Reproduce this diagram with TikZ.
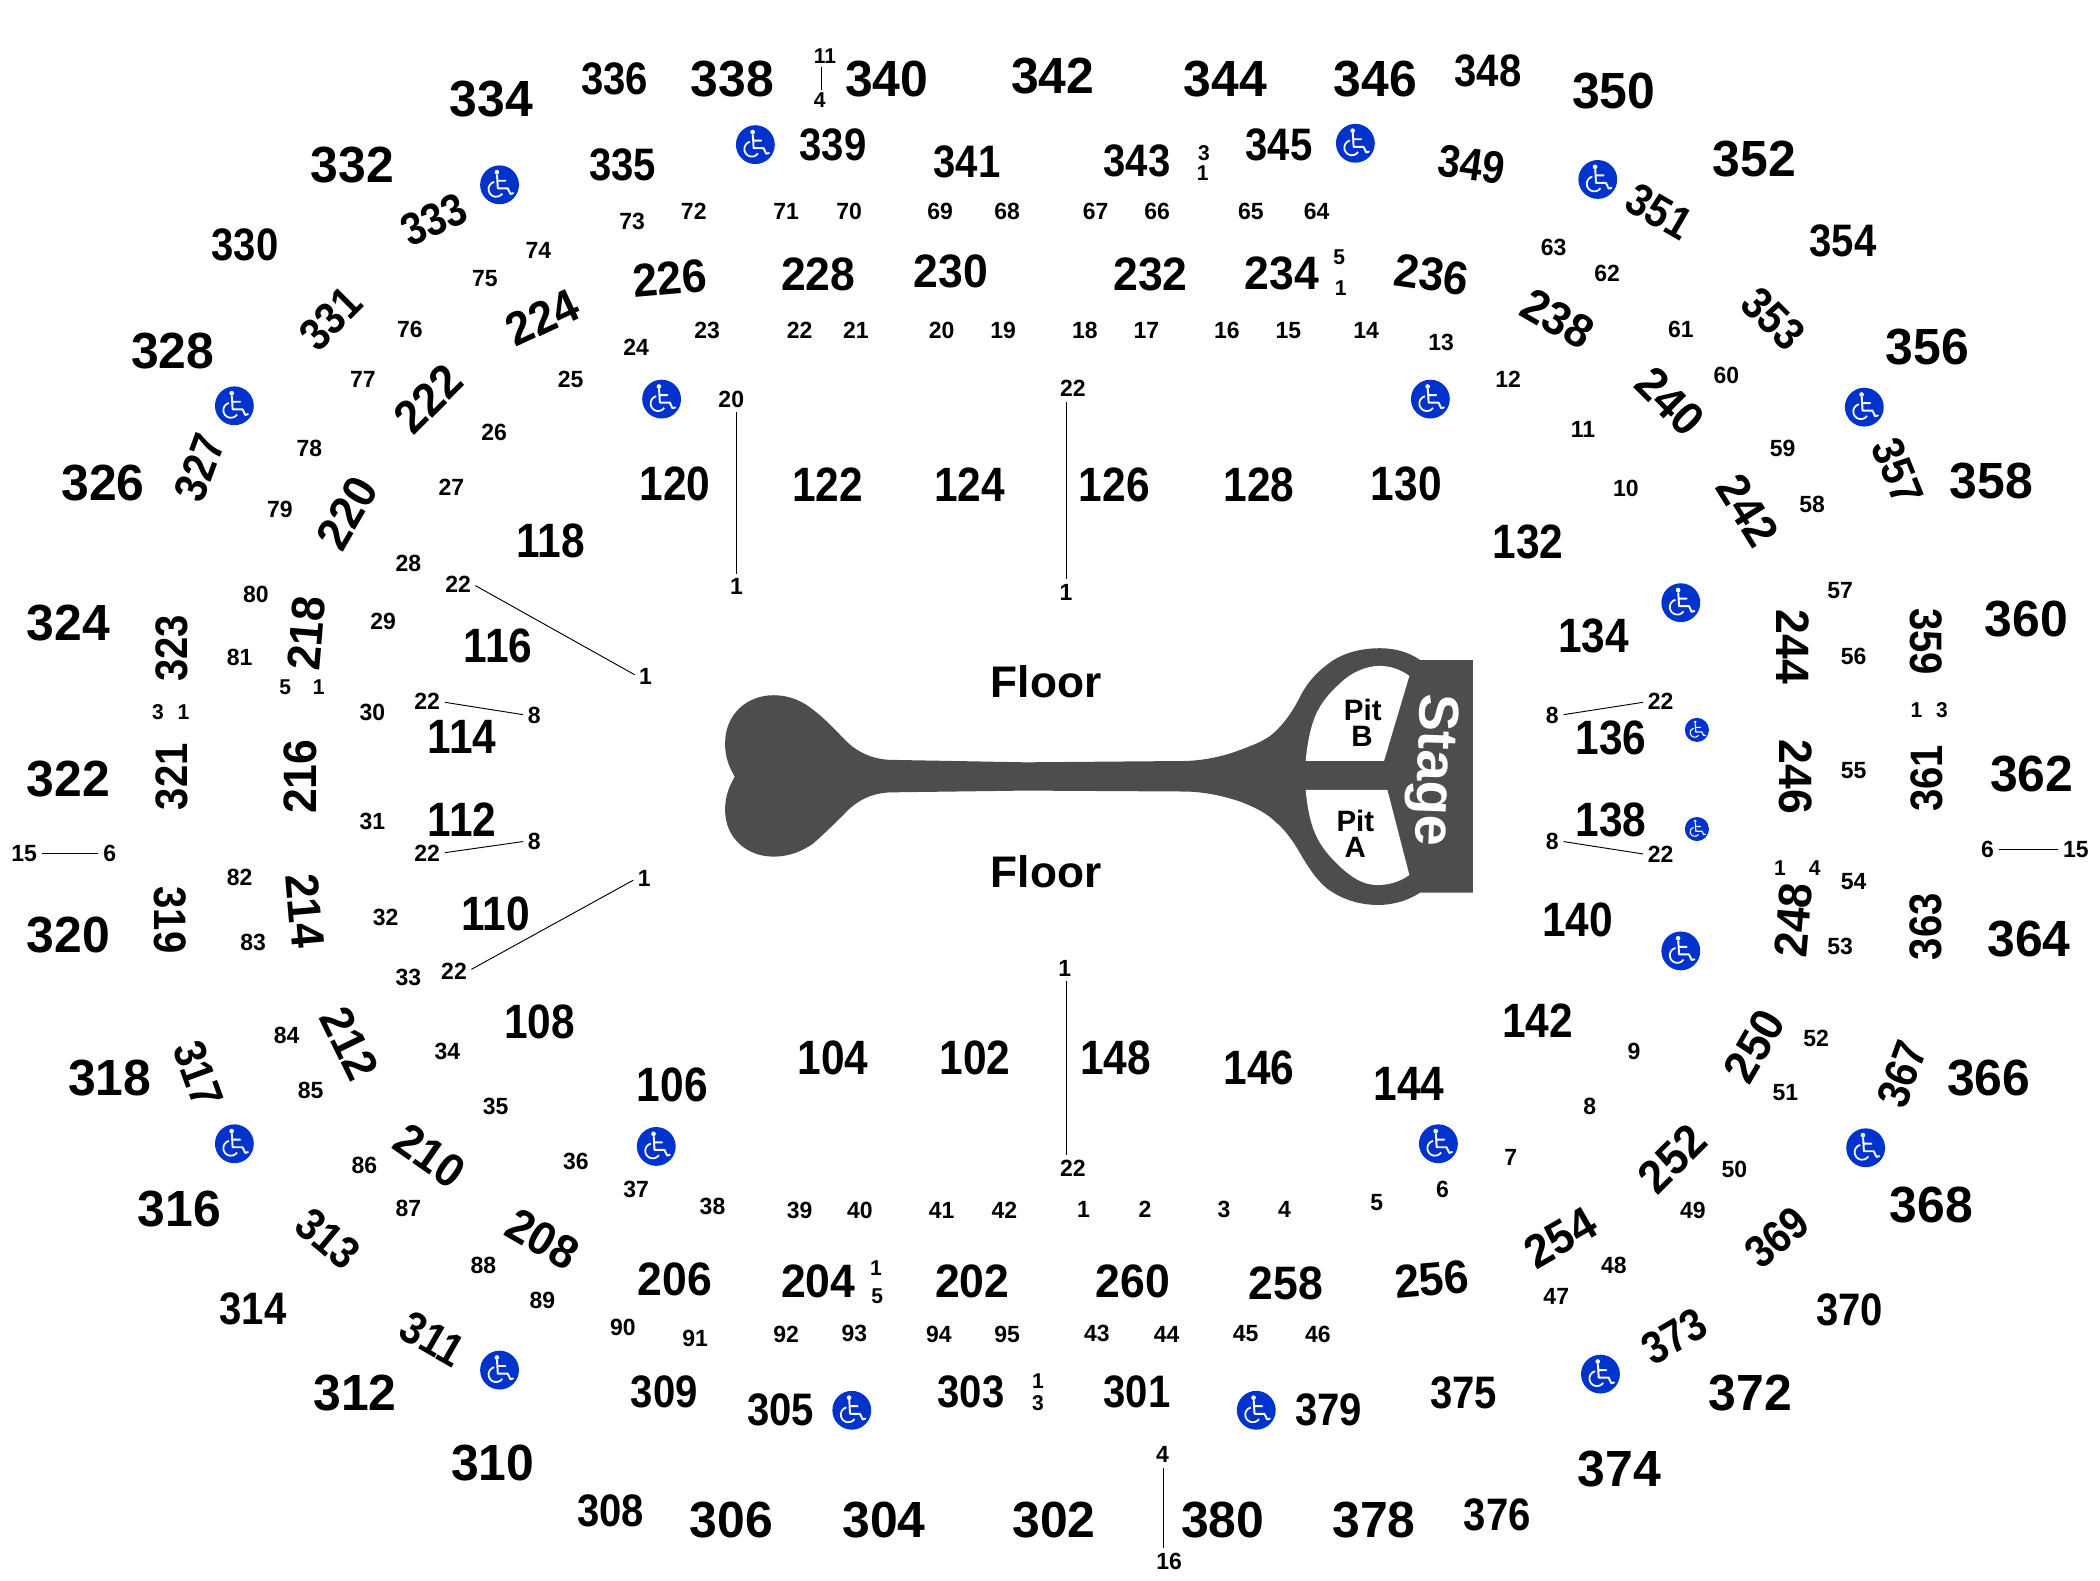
\documentclass[tikz,border=0pt]{standalone}
\usepackage{fontspec}
\setmainfont{Liberation Sans}
\newfontfamily\nara[FakeStretch=0.88]{Liberation Sans}
\newfontfamily\narb[FakeStretch=0.98]{Liberation Sans}
\newfontfamily\narc[FakeStretch=0.95]{Liberation Sans}
\definecolor{stagegrey}{HTML}{4D4D4D}
\definecolor{wcblue}{HTML}{0033CC}
\tikzset{
  base/.style={inner sep=1pt,text=black},
  xl/.style={base,font=\narb\fontsize{38}{38}\selectfont\bfseries},
  lg/.style={base,font=\nara\fontsize{36}{36}\selectfont\bfseries},
  md/.style={base,font=\nara\fontsize{34}{34}\selectfont\bfseries},
  tw/.style={base,font=\narc\fontsize{35}{35}\selectfont\bfseries},
  sm/.style={base,font=\narb\fontsize{17.5}{17.5}\selectfont\bfseries},
  ti/.style={base,font=\narb\fontsize{16}{16}\selectfont\bfseries},
  pit/.style={base,font=\fontsize{22}{22}\selectfont\bfseries},
  flr/.style={base,font=\fontsize{33}{33}\selectfont\bfseries},
  conn/.style={draw=black,line width=0.7pt,shorten <=2.5pt,shorten >=2.5pt},
}
\newcommand{\wheel}[3]{%
  \begin{scope}[shift={(#1,#2)},scale=#3]
    \fill[wcblue] (0,0) circle[radius=1];
    \fill[white] (-.14,-.65) circle[radius=.12];
    \draw[white,line width=#3*0.1pt,line cap=round,line join=round]
      (-.13,-.5) -- (-.09,.18) -- (.42,.18) -- (.56,.47) -- (.7,.43)
      (-.09,-.21) -- (.3,-.21);
    \draw[white,line width=#3*0.09pt] (-.28,-.15) arc[start angle=-105,end angle=-325,radius=.39];
  \end{scope}}
\begin{document}
\begin{tikzpicture}[x=1pt,y=-1pt]
\useasboundingbox (0,0) rectangle (1568,1180);
% stage
\fill[stagegrey] (548.6,579.9)
  .. controls (544,572) and (541.4,565) .. (541.4,555)
  .. controls (541.4,533) and (558,519.1) .. (577.5,519.1)
  .. controls (590,519.1) and (600,524) .. (607.3,530.1)
  .. controls (615,536) and (623,544) .. (629.7,551.3)
  .. controls (640,562) and (652,567.4) .. (667,567.4)
  -- (766,569.2) -- (884.6,568.2)
  .. controls (900,567.8) and (914,564.5) .. (925.9,560)
  .. controls (935,556.5) and (944,553.5) .. (950.8,547.5)
  .. controls (958,541) and (964,533) .. (969.5,522.6)
  .. controls (975,511) and (982,503) .. (990.6,496.5)
  .. controls (1001,488) and (1015,484) .. (1030.4,484)
  .. controls (1042,484) and (1052,487) .. (1060.3,492.8)
  -- (1099.8,492.8) -- (1099.8,666.5) -- (1060.3,666.5)
  .. controls (1052,672) and (1041,675.7) .. (1029.2,675.7)
  .. controls (1014,675.7) and (1001,671) .. (990.6,663.2)
  .. controls (982,656) and (976,646) .. (970.7,637.1)
  .. controls (965,627) and (959,619) .. (950.8,612.2)
  .. controls (944,606) and (935,602) .. (925.9,598.5)
  .. controls (914,594.5) and (900,591.2) .. (884.6,591)
  -- (766,590.3) -- (667,591.6)
  .. controls (652,591.6) and (640,597) .. (629.7,608.5)
  .. controls (623,615) and (615,623) .. (607.3,629.7)
  .. controls (600,635) and (590,639.6) .. (577.5,639.6)
  .. controls (558,639.6) and (541.4,626) .. (541.4,604.8)
  .. controls (541.4,595) and (544,588) .. (548.6,579.9) -- cycle;
\fill[white] (974.9,568.2)
  .. controls (976,556) and (978,545) .. (981.9,535)
  .. controls (986,525) and (993,517) .. (1000.6,510.2)
  .. controls (1009,502) and (1020,497.2) .. (1030.4,497.2)
  .. controls (1038,497.2) and (1046,500) .. (1052.3,504.7)
  -- (1033.4,568.2) -- cycle;
\fill[white] (974.9,589.8)
  .. controls (976,602) and (978,613) .. (981.9,622.2)
  .. controls (986,632) and (993,640) .. (1000.6,647.1)
  .. controls (1009,655) and (1018,660.8) .. (1028,660.8)
  .. controls (1037,661) and (1046,658) .. (1052.3,653.3)
  -- (1035.9,589.8) -- cycle;
\node[flr,name=floorA] at (781,509) {Floor};
\node[flr,name=floorB] at (781,651) {Floor};
\node[pit,name=pitB1] at (1017.5,530) {Pit};
\node[pit,name=pitB2] at (1017,550) {B};
\node[pit,name=pitA1] at (1012,613) {Pit};
\node[pit,name=pitA2] at (1012,633) {A};
\node[base,text=white,font=\fontsize{42}{42}\selectfont\bfseries,rotate=-92,name=stage] at (1069,575) {Stage};
% wheelchair
\foreach \x/\y in {373/138,564/108,1012/107,1193/134,175/303,494/298,1068/298,1392/304,1255/450,1255/710,175/854,490/856,1074/854,1393/857,373/1023,636/1053,938/1053,1195/1026}
  {\wheel{\x}{\y}{14.5}}
\wheel{1267}{545}{9}
\wheel{1267}{619}{9}
% 300 even large
\foreach \t/\x/\y in {334/367/74,338/547/59,340/662/59,342/786/57,344/915/59,346/1027/59,350/1205/68,352/1310/119,356/1439/259,358/1487/359,360/1513/462,362/1517/578,364/1515/701,366/1485/805,368/1442/900,372/1307/1040,374/1209/1097,378/1026/1135,380/913/1135,302/787/1135,304/660/1135,306/546/1135,310/368/1092,312/265/1040,316/134/903,318/82/805,320/51/698,322/51/582,324/51/465,326/77/361,328/129/262,332/263/123}
  {\node[xl,name=n\t] at (\x,\y) {\t};}
\foreach \t/\x/\y in {336/459/59,348/1111/53,354/1376/180,370/1381/978,376/1118/1131,308/456/1128,314/189/977,330/183/183}
  {\node[md,name=n\t] at (\x,\y) {\t};}
% 300 odd and 200, 100
\foreach \t/\x/\y/\r in {333/324/164/25,335/465/123/0,339/622/108/0,341/722/121/0,343/849/120/0,345/955/108/0,349/1099/123/-8,351/1239/158/-30,353/1324/238/-45,357/1417/352/-68,359/1438/479/-90,361/1439/581/90,363/1438/692/90,367/1420/802/70,369/1327/924/40,373/1250/998/30,375/1093/1040/0,379/992/1053/0,301/849/1039/0,303/725/1039/0,305/583/1053/0,309/496/1039/0,311/323/1000/-30,313/245/925/-40,317/148/802/-70,319/127/687/-90,321/128/580/90,323/128/484/90,327/149/349/70,331/247/238/45}
  {\node[md,rotate=\r,name=n\t] at (\x,\y) {\t};}
\foreach \t/\x/\y/\r in {226/500/208/5,228/611/205/0,230/710/203/0,232/859/205/0,234/957/204/0,236/1069/205/-8,238/1163/238/-30,240/1247/300/-45,242/1305/381/-58,244/1339/483/-90,246/1341/580/-90,248/1339/687/85,250/1310/781/60,252/1249/865/45,254/1165/924/30,256/1069/955/5,258/960/958/0,260/846/957/0,202/726/957/0,204/611/957/0,206/504/955/0,208/405/925/-30,210/321/863/-35,212/261/779/-64,214/228/680/-85,216/224/580/90,218/229/473/85,220/259/383/60,222/320/298/45,224/405/237/25}
  {\node[tw,rotate=\r,name=n\t] at (\x,\y) {\t};}
\foreach \t/\x/\y in {120/504/361,122/618/362,124/724/362,126/832/362,128/940/362,130/1050/361,132/1141/405,134/1190/475,136/1203/551,138/1203/612,140/1178/687,142/1148/762,144/1052/809,146/940/797,148/833/790,102/728/790,104/622/790,106/502/810,108/403/763,110/370/682,112/345/612,114/345/550,116/372/482,118/411/404}
  {\node[lg,name=n\t] at (\x,\y) {\t};}
% small numbers
\foreach \t/\x/\y in {73/472/165,72/518/158,71/587/158,70/634/158,69/702/158,68/752/158,67/818/158,66/864/158,65/934/158,64/983/158,63/1160/185,62/1200/204,61/1255/246,60/1289/280,59/1331/335,58/1353/377,57/1374/441,56/1384/490,55/1384/575,54/1384/658,53/1374/707,52/1356/775,51/1333/816,50/1295/873,49/1264/904,48/1205/945,47/1162/968,46/984/996,45/930/996,44/871/996,43/819/996,95/752/996,94/701/996,93/638/996,92/587/996,91/519/999,90/465/991,89/405/971,88/361/945,87/305/902,86/272/870,85/232/814,84/214/773,83/189/704,82/179/655,81/179/491,80/191/444,79/209/380,78/231/335,77/271/283,76/306/246,75/362/208,74/402/187}
  {\node[sm,name=u\t] at (\x,\y) {\t};}
\foreach \t/\x/\y in {23/528/247,22/597/247,21/639/247,20/703/247,19/749/247,18/810/247,17/856/247,16/916/247,15/962/247,14/1020/247,13/1076/256,12/1126/283,11/1182/321,10/1214/365,9/1220/785,8/1187/826,7/1128/864,6/1077/888,5/1028/898,4/959/903,3/914/903,2/855/903,1/809/903,42/750/904,41/703/904,40/642/904,39/597/904,38/532/901,37/475/888,36/430/867,35/370/826,34/334/785,33/305/730,32/288/685,31/278/613,30/278/532,29/286/464,28/305/421,27/337/364,26/369/323,25/426/283,24/475/259}
  {\node[sm,name=l\t] at (\x,\y) {\t};}
% seat count pairs
\foreach \n/\t/\x/\y in {a/3/899/114,b/1/898/129,c/5/1000/192,d/1/1001/215,e/1/654/947,f/5/655/968,g/1/775/1031,h/3/775/1048,i/3/118/532,j/1/137/532,k/5/213/513,m/1/238/513,o/1/1431/530,p/3/1450/530,q/1/1329/648,r/4/1355/648}
  {\node[ti,name=pair\n] at (\x,\y) {\t};}
% connector ends
\node[sm,name=c1a] at (546,298) {20};  \node[sm,name=c1b] at (550,438) {1};
\node[sm,name=c2a] at (801,290) {22};  \node[sm,name=c2b] at (796,442) {1};
\node[sm,name=c3a] at (342,436) {22};  \node[sm,name=c3b] at (482,505) {1};
\node[sm,name=c4a] at (319,524) {22};  \node[sm,name=c4b] at (399,534) {8};
\node[sm,name=c5a] at (319,637) {22};  \node[sm,name=c5b] at (399,628) {8};
\node[sm,name=c6a] at (481,656) {1};   \node[sm,name=c6b] at (339,725) {22};
\node[sm,name=c7a] at (795,723) {1};   \node[sm,name=c7b] at (801,872) {22};
\node[sm,name=c8a] at (1159,534) {8};  \node[sm,name=c8b] at (1240,524) {22};
\node[sm,name=c9a] at (1159,628) {8};  \node[sm,name=c9b] at (1240,638) {22};
\node[sm,name=c10a] at (18,637) {15};  \node[sm,name=c10b] at (82,637) {6};
\node[sm,name=c11a] at (1484,634) {6}; \node[sm,name=c11b] at (1550,634) {15};
\node[sm,name=c12a] at (868,1086) {4}; \node[sm,name=c12b] at (873,1166) {16};
\node[ti,name=c13a] at (616,42) {11};  \node[ti,name=c13b] at (612,75) {4};
\draw[conn] (c1a.south -| c1b.north) -- (c1b.north);
\draw[conn] (c2a.south -| c2b.north) -- (c2b.north);
\draw[conn] (c3a.east) -- (c3b.west);
\draw[conn] (c4a.east) -- (c4b.west);
\draw[conn] (c5a.east) -- (c5b.west);
\draw[conn] (c6a.west) -- (c6b.east);
\draw[conn] ([xshift=1pt]c7a.south) -- ([xshift=1pt]c7a.south |- c7b.north);
\draw[conn] (c8a.east) -- (c8b.west);
\draw[conn] (c9a.east) -- (c9b.west);
\draw[conn] (c10a.east) -- (c10b.west);
\draw[conn] (c11a.east) -- (c11b.west);
\draw[conn] ([xshift=1pt]c12a.south) -- ([xshift=1pt]c12a.south |- c12b.north);
\draw[conn,shorten <=1pt,shorten >=1pt] ([xshift=-3pt]c13a.south) -- ([xshift=-3pt]c13a.south |- c13b.north);
\end{tikzpicture}
\end{document}
